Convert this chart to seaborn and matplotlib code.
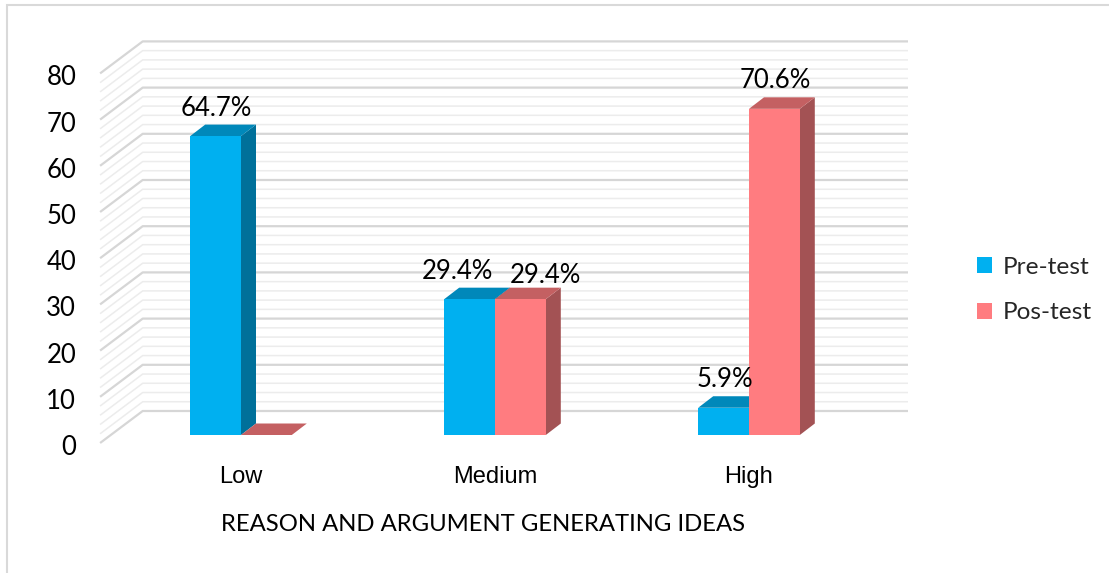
import matplotlib
matplotlib.use("Agg")
import matplotlib.pyplot as plt
import matplotlib.transforms as mtransforms
from matplotlib.patches import Polygon, Rectangle
from matplotlib.lines import Line2D
import pandas as pd
import seaborn as sns

# ---- data -------------------------------------------------------------
categories = ["Low", "Medium", "High"]
series = ["Pre-test", "Pos-test"]
pre_test = [64.7, 29.4, 5.9]
pos_test = [0.0, 29.4, 70.6]
y_ticks = [0, 10, 20, 30, 40, 50, 60, 70, 80]
x_title = "REASON AND ARGUMENT GENERATING IDEAS"

df = pd.DataFrame({
    "category": categories * len(series),
    "series": [series[0]] * len(categories) + [series[1]] * len(categories),
    "value": pre_test + pos_test,
})

# ---- style ------------------------------------------------------------
front_colors = {"Pre-test": "#00B0F0", "Pos-test": "#FF7C80"}
top_colors = {"Pre-test": "#0088BA", "Pos-test": "#C46062"}
side_colors = {"Pre-test": "#00709A", "Pos-test": "#A35254"}
major_grid = "#D6D6D6"
minor_grid = "#ECECEC"

sns.set_theme(style="white")
calibri_like = ["Lato", "DejaVu Sans"]
arial_like = ["Liberation Sans", "DejaVu Sans"]
plt.rcParams["font.family"] = calibri_like

W, H, DPI = 1109, 573, 100
fig = plt.figure(figsize=(W / DPI, H / DPI), dpi=DPI)
fig.patch.set_facecolor("white")

# Axes laid out in pixels so the bar front plane has a fixed scale
x0_px, cat_px = 241.0, 254.0      # first category centre, category spacing
y0_px, unit_px = 435.0, 4.62      # zero line (from top), pixels per unit
xlim = (-0.597, 2.502)
ylim = (-2.2, 82.0)
left = x0_px + xlim[0] * cat_px
right = x0_px + xlim[1] * cat_px
bottom = y0_px - ylim[0] * unit_px
top = y0_px - ylim[1] * unit_px
ax = fig.add_axes([left / W, 1 - bottom / H, (right - left) / W, (bottom - top) / H])
ax.patch.set_visible(False)

sns.barplot(
    data=df, x="category", y="value", hue="series",
    order=categories, hue_order=series, palette=front_colors,
    width=0.4, saturation=1, linewidth=0, errorbar=None, ax=ax,
)
ax.set_xlim(*xlim)
ax.set_ylim(*ylim)
for s in ax.spines.values():
    s.set_visible(False)

# ---- pseudo-3D depth planes (display pixel offsets, y up) -------------
EDGE = (-10.6, -8.0)     # front edge of the side wall
FRONT = (0.0, 0.0)       # bar front faces
BACK = (15.0, 11.5)      # bar back faces
WALL = (32.0, 24.0)      # back wall
wall_x = (-0.513, 2.5)
ident = mtransforms.IdentityTransform()


def to_px(x, y, plane):
    px, py = ax.transData.transform((x, y))
    return (px + plane[0], py + plane[1])


# walls: gridlines every 2 units, darker every 10
for v in range(0, 81, 2):
    major = v % 10 == 0
    pts = [to_px(wall_x[0], v, EDGE), to_px(wall_x[0], v, WALL), to_px(wall_x[1], v, WALL)]
    ax.add_line(Line2D([p[0] for p in pts], [p[1] for p in pts], transform=ident,
                       color=major_grid if major else minor_grid,
                       lw=1.6 if major else 1.1, clip_on=False,
                       zorder=1.5 if major else 1.2, solid_capstyle="butt"))

# bars: side and top faces drawn from each bar's own geometry
for i, (name, cont) in enumerate(zip(series, ax.containers)):
    for bar in cont.patches:
        x, w, h = bar.get_x(), bar.get_width(), bar.get_height()
        z = 3 + 0.1 * i
        bar.set_zorder(z + 0.05)
        bar.set_clip_on(False)
        side = [to_px(x + w, 0, FRONT), to_px(x + w, h, FRONT),
                to_px(x + w, h, BACK), to_px(x + w, 0, BACK)]
        topf = [to_px(x, h, FRONT), to_px(x + w, h, FRONT),
                to_px(x + w, h, BACK), to_px(x, h, BACK)]
        ax.add_patch(Polygon(side, closed=True, transform=ident, facecolor=side_colors[name],
                             edgecolor="none", clip_on=False, zorder=z + 0.02))
        ax.add_patch(Polygon(topf, closed=True, transform=ident, facecolor=top_colors[name],
                             edgecolor="none", clip_on=False, zorder=z + 0.03))

# value labels (nudged sideways where two labels would collide)
px_pt = 72.0 / DPI
nudges = {("Medium", "Pre-test"): (-12, 28), ("Medium", "Pos-test"): (25, 24)}
for i, (name, cont) in enumerate(zip(series, ax.containers)):
    for cat, bar in zip(categories, cont.patches):
        val = bar.get_height()
        if val <= 0:
            continue
        dx, dy = nudges.get((cat, name), (1, 28))
        ax.annotate(f"{val:.1f}%", xy=(bar.get_x() + bar.get_width() / 2, val),
                    xytext=(dx * px_pt, dy * px_pt), textcoords="offset points",
                    ha="center", va="center", fontsize=18.5, color="#000000",
                    annotation_clip=False, zorder=6)

# axes ticks
ax.set_yticks(y_ticks)
ax.set_yticklabels([str(t) for t in y_ticks], fontsize=18.5, color="#000000")
ax.tick_params(axis="y", length=0, pad=9.5)
shift = mtransforms.ScaledTranslation(0, -10 / DPI, fig.dpi_scale_trans)
for lab in ax.get_yticklabels():
    lab.set_transform(lab.get_transform() + shift)

ax.set_xticks(range(len(categories)))
ax.set_xticklabels(categories, fontsize=17, family=arial_like, color="#000000")
ax.tick_params(axis="x", length=0, pad=15)
ax.set_xlabel(x_title, fontsize=17.2, color="#000000", labelpad=19)
ax.set_ylabel("")

# legend
handles, labels = ax.get_legend_handles_labels()
if ax.get_legend() is not None:
    ax.get_legend().remove()
leg = fig.legend(handles, labels, loc="center left", bbox_to_anchor=(967 / W, 1 - 290 / H),
                 frameon=False, fontsize=17.6, handlelength=0.62, handleheight=0.62,
                 handletextpad=0.45, labelspacing=1.0, borderaxespad=0)

# outer chart frame
fig.add_artist(Rectangle((7 / W, -0.05), 1.2, 1 - 5 / H + 0.05, transform=fig.transFigure,
                         fill=False, edgecolor="#D9D9D9", lw=1.5))

fig.savefig("out.png", dpi=DPI, facecolor="white")
